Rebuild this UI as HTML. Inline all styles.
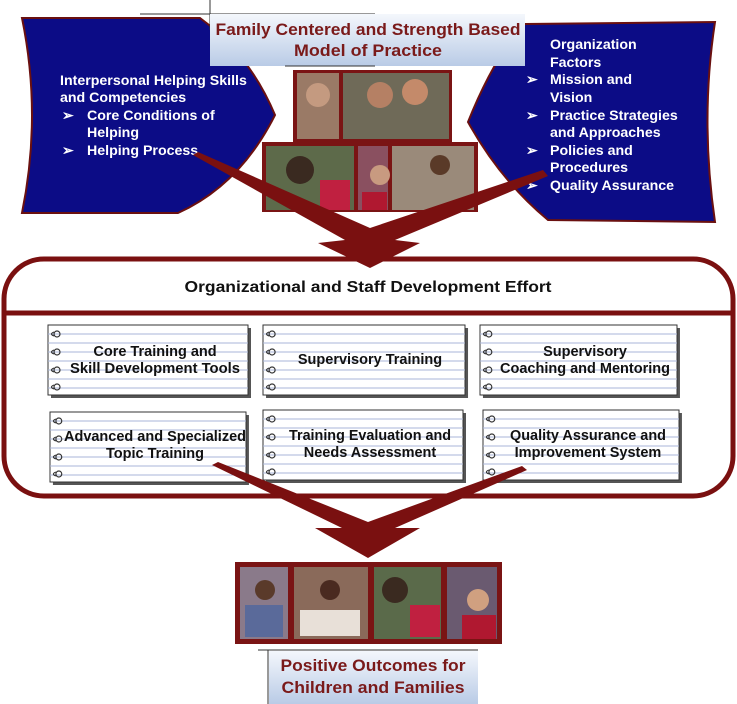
<!DOCTYPE html>
<html><head><meta charset="utf-8"><style>
body{margin:0;background:#fff;width:737px;height:704px;overflow:hidden}
svg{display:block;font-family:"Liberation Sans",sans-serif;font-weight:bold}
</style></head><body>
<svg width="737" height="704" viewBox="0 0 737 704" xmlns="http://www.w3.org/2000/svg">
<defs>
<linearGradient id="tb" x1="0" y1="0" x2="0" y2="1"><stop offset="0" stop-color="#f4f7fc"/><stop offset="1" stop-color="#b9cbe6"/></linearGradient>
<g id="nb">
<rect x="3" y="3" width="200" height="70" fill="#555"/>
<rect x="0" y="0" width="200" height="70" fill="#fff" stroke="#333" stroke-width="1"/>
<g stroke="#a9b6d8" stroke-width="1"><line x1="0" y1="9" x2="200" y2="9"/><line x1="0" y1="18" x2="200" y2="18"/><line x1="0" y1="27" x2="200" y2="27"/><line x1="0" y1="36" x2="200" y2="36"/><line x1="0" y1="45" x2="200" y2="45"/><line x1="0" y1="54" x2="200" y2="54"/><line x1="0" y1="63" x2="200" y2="63"/></g>
<g fill="none" stroke="#333" stroke-width="1.2"><circle cx="9" cy="9" r="3"/><circle cx="9" cy="27" r="3"/><circle cx="9" cy="45" r="3"/><circle cx="9" cy="62" r="3"/><path d="M6 7 q-5 2 0 4 M6 25 q-5 2 0 4 M6 43 q-5 2 0 4 M6 60 q-5 2 0 4"/></g>
</g>
</defs>
<path d="M22 18 L200 18 Q250 55 275 115 Q240 185 178 213 L22 213 Q42 115 22 18 Z" fill="#0c0c86" stroke="#6a1010" stroke-width="2"/>
<path d="M525 24 L715 22 Q700 120 715 222 L548 220 Q500 180 468 122 Q495 55 525 24 Z" fill="#0c0c86" stroke="#6a1010" stroke-width="2"/>
<line x1="140" y1="14" x2="375" y2="14" stroke="#333"/>
<line x1="210" y1="0" x2="210" y2="30" stroke="#333"/>
<rect x="210" y="14" width="315" height="52" fill="url(#tb)"/>
<line x1="285" y1="66" x2="375" y2="66" stroke="#333"/>
<text x="368" y="35" text-anchor="middle" font-size="16.5" fill="#7a1a1a" textLength="305" lengthAdjust="spacingAndGlyphs">Family Centered and Strength Based</text>
<text x="368" y="56" text-anchor="middle" font-size="16.5" fill="#7a1a1a" textLength="148" lengthAdjust="spacingAndGlyphs">Model of Practice</text>
<g fill="#fff" font-size="14.2">
<text x="60" y="85">Interpersonal Helping Skills</text>
<text x="60" y="102">and Competencies</text>
<text x="62" y="120">➢</text><text x="87" y="120">Core Conditions of</text>
<text x="87" y="137">Helping</text>
<text x="62" y="155">➢</text><text x="87" y="155">Helping Process</text>
</g>
<g fill="#fff" font-size="14.2">
<text x="550" y="49">Organization</text>
<text x="550" y="67">Factors</text>
<text x="526" y="84">➢</text><text x="550" y="84">Mission and</text>
<text x="550" y="102">Vision</text>
<text x="526" y="120">➢</text><text x="550" y="120">Practice Strategies</text>
<text x="550" y="137">and Approaches</text>
<text x="526" y="155">➢</text><text x="550" y="155">Policies and</text>
<text x="550" y="172">Procedures</text>
<text x="526" y="190">➢</text><text x="550" y="190">Quality Assurance</text>
</g>
<rect x="293" y="70" width="159" height="72" fill="#7a1414"/>
<rect x="297" y="73" width="42" height="66" fill="#9a7a66"/>
<rect x="343" y="73" width="106" height="66" fill="#6f6a58"/>
<circle cx="318" cy="95" r="12" fill="#c49a80"/><circle cx="380" cy="95" r="13" fill="#b58064"/><circle cx="415" cy="92" r="13" fill="#c48a6a"/>
<rect x="262" y="142" width="216" height="70" fill="#7a1414"/>
<rect x="266" y="146" width="88" height="64" fill="#5d6a4a"/>
<rect x="358" y="146" width="30" height="64" fill="#8a5060"/>
<rect x="392" y="146" width="82" height="64" fill="#9a8a7a"/>
<circle cx="300" cy="170" r="14" fill="#3a2a20"/><rect x="320" y="180" width="30" height="30" fill="#c02040"/>
<circle cx="380" cy="175" r="10" fill="#c89a80"/><rect x="362" y="192" width="25" height="18" fill="#b01830"/>
<circle cx="440" cy="165" r="10" fill="#5a3a28"/>
<path d="M193 155 L198 152 L370 228 L543 170 L548 176 L395 240 L420 243 L370 268 L318 243 L345 240 Z" fill="#7a1010"/>
<rect x="4" y="259" width="729" height="237" rx="40" fill="none" stroke="#7a1010" stroke-width="5"/>
<line x1="6" y1="313" x2="731" y2="313" stroke="#7a1010" stroke-width="5"/>
<text x="368" y="292" text-anchor="middle" font-size="15.5" fill="#111" textLength="367" lengthAdjust="spacingAndGlyphs">Organizational and Staff Development Effort</text>
<use href="#nb" transform="translate(48,325)"/>
<use href="#nb" transform="translate(263,325) scale(1.01,1)"/>
<use href="#nb" transform="translate(480,325) scale(0.985,1)"/>
<use href="#nb" transform="translate(50,412) scale(0.98,1)"/>
<use href="#nb" transform="translate(263,410) scale(1.0,1)"/>
<use href="#nb" transform="translate(483,410) scale(0.98,1)"/>
<g font-size="14.5" fill="#111" text-anchor="middle">
<text x="155" y="356">Core Training and</text>
<text x="155" y="373" textLength="170" lengthAdjust="spacingAndGlyphs">Skill Development Tools</text>
<text x="370" y="364">Supervisory Training</text>
<text x="585" y="356">Supervisory</text>
<text x="585" y="373" textLength="170" lengthAdjust="spacingAndGlyphs">Coaching and Mentoring</text>
<text x="155" y="441" textLength="182" lengthAdjust="spacingAndGlyphs">Advanced and Specialized</text>
<text x="155" y="458">Topic Training</text>
<text x="370" y="440" textLength="162" lengthAdjust="spacingAndGlyphs">Training Evaluation and</text>
<text x="370" y="457">Needs Assessment</text>
<text x="588" y="440" textLength="156" lengthAdjust="spacingAndGlyphs">Quality Assurance and</text>
<text x="588" y="457">Improvement System</text>
</g>
<path d="M212 465 L218 462 L368 522 L522 466 L527 470 L395 528 L420 528 L368 558 L315 528 L342 528 Z" fill="#7a1010"/>
<rect x="235" y="562" width="267" height="82" fill="#7a1414"/>
<rect x="240" y="567" width="48" height="72" fill="#8a7a8a"/>
<rect x="294" y="567" width="74" height="72" fill="#8a6a5a"/>
<rect x="374" y="567" width="67" height="72" fill="#5a6a4a"/>
<rect x="447" y="567" width="50" height="72" fill="#6a5a70"/>
<circle cx="265" cy="590" r="10" fill="#5a3a2a"/><rect x="245" y="605" width="38" height="32" fill="#5a6a9a"/>
<circle cx="330" cy="590" r="10" fill="#4a2a20"/><rect x="300" y="610" width="60" height="26" fill="#e8e0d8"/>
<circle cx="395" cy="590" r="13" fill="#3a2a20"/><rect x="410" y="605" width="30" height="32" fill="#c02040"/>
<circle cx="478" cy="600" r="11" fill="#d0a080"/><rect x="462" y="615" width="34" height="24" fill="#b01830"/>
<line x1="258" y1="650" x2="478" y2="650" stroke="#333"/>
<line x1="268" y1="650" x2="268" y2="704" stroke="#333"/>
<rect x="269" y="651" width="209" height="53" fill="url(#tb)"/>
<text x="373" y="671" text-anchor="middle" font-size="16.5" fill="#7a1a1a" textLength="185" lengthAdjust="spacingAndGlyphs">Positive Outcomes for</text>
<text x="373" y="693" text-anchor="middle" font-size="16.5" fill="#7a1a1a" textLength="183" lengthAdjust="spacingAndGlyphs">Children and Families</text>
</svg>
</body></html>
